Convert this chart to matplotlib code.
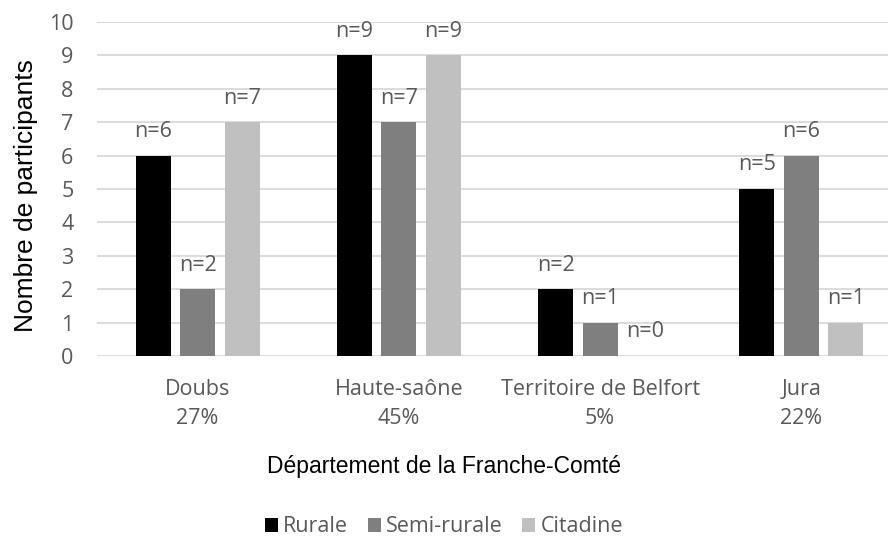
import matplotlib
matplotlib.use('Agg')
import matplotlib.pyplot as plt
import numpy as np

departements = ['Doubs', 'Haute-saône', 'Territoire de Belfort', 'Jura']
pourcentages = ['27%', '45%', '5%', '22%']
series = ['Rurale', 'Semi-rurale', 'Citadine']
rurale = [6, 9, 2, 5]
semi_rurale = [2, 7, 1, 6]
citadine = [7, 9, 0, 1]

couleurs = ['#000000', '#7f7f7f', '#c0c0c0']
gris_texte = '#595959'
police = 'Open Sans'
taille = 15.5

fig = plt.figure(figsize=(8.88, 5.39), dpi=100)
ax = fig.add_axes([97 / 888, 183 / 539, 1 - 97 / 888, 334 / 539])

x = np.arange(len(departements))
largeur = 0.174
pas = 0.221
for i, (nom, valeurs) in enumerate(zip(series, [rurale, semi_rurale, citadine])):
    pos = x + (i - 1) * pas
    ax.bar(pos, valeurs, largeur, color=couleurs[i], label=nom, zorder=3)
    for px, v in zip(pos, valeurs):
        ax.text(px, v + 0.72, 'n=%d' % v, ha='center', va='center',
                fontsize=taille, color=gris_texte, family=police)

ax.set_xlim(-0.5, 3.43)
ax.set_ylim(0, 10)
ax.set_yticks(range(0, 11))
ax.yaxis.grid(True, color='#d9d9d9', linewidth=1.3, zorder=0)
ax.set_axisbelow(True)
for s in ax.spines.values():
    s.set_visible(False)
ax.tick_params(axis='both', length=0, labelsize=taille, labelcolor=gris_texte)
ax.tick_params(axis='y', pad=17)
ax.tick_params(axis='x', pad=16.5)
ax.set_xticks(x)
ax.set_xticklabels(['%s\n%s' % (d, p) for d, p in zip(departements, pourcentages)],
                   family=police, linespacing=1.5)
for lab in ax.get_yticklabels():
    lab.set_family(police)

ax.set_ylabel('Nombre de participants', fontsize=19, family='Liberation Sans', color='black')
ax.yaxis.set_label_coords((26 - 97) / 791, 0.479)
ax.yaxis.label.set_va('center')
ax.set_xlabel('Département de la Franche-Comté', fontsize=16.5, family='Liberation Sans',
              color='black')
ax.xaxis.set_label_coords((444 - 97) / 791, (356 - 466) / 334)
ax.xaxis.label.set_va('center')

leg = fig.legend(loc='center', bbox_to_anchor=(0.5, 12 / 539), ncol=3, frameon=False,
                 prop={'family': police, 'size': taille}, handlelength=0.6, handleheight=0.6,
                 handletextpad=0.25, columnspacing=0.9, borderaxespad=0, borderpad=0)
for t in leg.get_texts():
    t.set_color(gris_texte)

fig.savefig('out.png', dpi=100)
